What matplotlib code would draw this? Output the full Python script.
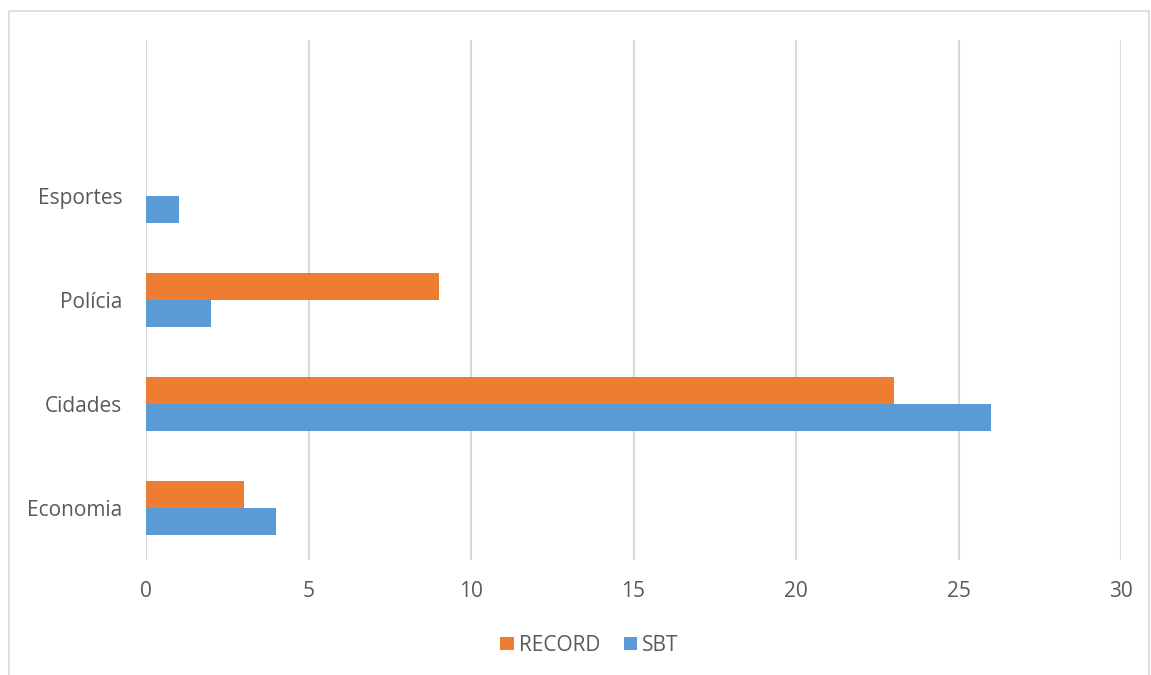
import numpy as np
import matplotlib.pyplot as plt
from matplotlib.patches import Rectangle

# data
categories = ["Economia", "Cidades", "Polícia", "Esportes"]
record = [3, 23, 9, 0]
sbt = [4, 26, 2, 1]
xticks = [0, 5, 10, 15, 20, 25, 30]

orange = "#ED7D31"
blue = "#5B9BD5"
grey_txt = "#595959"
grid_col = "#D9D9D9"

plt.rcParams['font.family'] = ['Open Sans', 'DejaVu Sans']

fig = plt.figure(figsize=(11.51, 6.75), dpi=100)
# outer chart border
fig.patches.append(Rectangle((9 / 1151, -0.01), (1149 - 9) / 1151, 1 - 11 / 675 + 0.01,
                             transform=fig.transFigure, fill=False,
                             edgecolor=grid_col, linewidth=1.2))

ax = fig.add_axes([146 / 1151, 1 - 560 / 675, (1121 - 146) / 1151, 520 / 675])

y = np.arange(len(categories))
h = 0.26
ax.barh(y + h / 2, record, height=h, color=orange, label="RECORD")
ax.barh(y - h / 2, sbt, height=h, color=blue, label="SBT")

ax.set_xlim(0, 30)
ax.set_ylim(-0.5, 4.5)
ax.set_xticks(xticks)
ax.set_yticks(y)
ax.set_yticklabels(categories)
ax.tick_params(axis='both', length=0, labelsize=15, colors=grey_txt)
ax.tick_params(axis='x', pad=15)
ax.tick_params(axis='y', pad=17)
ax.grid(axis='x', color=grid_col, linewidth=1.5)
ax.set_axisbelow(True)
for s in ax.spines.values():
    s.set_visible(False)

ax.legend(loc='center', bbox_to_anchor=(0.455, -0.164), ncol=2, frameon=False,
          fontsize=15, labelcolor=grey_txt, handlelength=0.65, handleheight=0.65,
          handletextpad=0.25, columnspacing=1.1)

fig.savefig("out.png", dpi=100)
